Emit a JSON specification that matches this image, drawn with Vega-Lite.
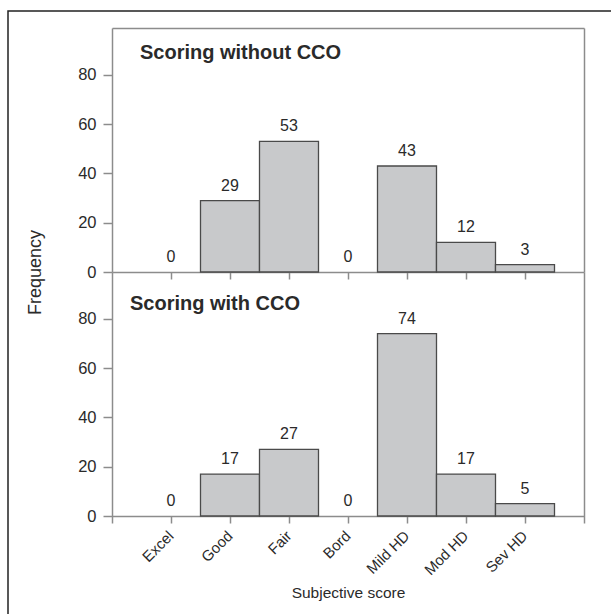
{
  "$schema": "https://vega.github.io/schema/vega-lite/v6.json",
  "width": 605,
  "height": 605,
  "autosize": {"type": "none"},
  "padding": {"left": 8, "top": 11, "right": 0, "bottom": 0},
  "background": "white",
  "data": {"values": [
    {"panel": "without", "score": "Excel", "freq": 0},
    {"panel": "without", "score": "Good", "freq": 29},
    {"panel": "without", "score": "Fair", "freq": 53},
    {"panel": "without", "score": "Bord", "freq": 0},
    {"panel": "without", "score": "Mild HD", "freq": 43},
    {"panel": "without", "score": "Mod HD", "freq": 12},
    {"panel": "without", "score": "Sev HD", "freq": 3},
    {"panel": "with", "score": "Excel", "freq": 0},
    {"panel": "with", "score": "Good", "freq": 17},
    {"panel": "with", "score": "Fair", "freq": 27},
    {"panel": "with", "score": "Bord", "freq": 0},
    {"panel": "with", "score": "Mild HD", "freq": 74},
    {"panel": "with", "score": "Mod HD", "freq": 17},
    {"panel": "with", "score": "Sev HD", "freq": 5}
  ]},
  "layer": [
    {
      "resolve": {"axis": {"x": "independent", "y": "independent"}},
      "layer": [
        {
          "transform": [{"filter": "datum.panel == 'without' && datum.freq > 0"}],
          "mark": {"type": "bar", "fill": "#c8c9cb", "stroke": "#4a4a4a", "strokeWidth": 1.3},
          "encoding": {
            "x": {"field": "score", "type": "nominal",
              "scale": {"domain": ["Excel", "Good", "Fair", "Bord", "Mild HD", "Mod HD", "Sev HD"], "range": [104, 576], "paddingInner": 0, "paddingOuter": 0.5},
              "axis": {"orient": "bottom", "offset": -344, "labels": false, "title": null, "tickSize": 7}},
            "y": {"field": "freq", "type": "quantitative",
              "scale": {"domain": [0, 99], "range": [261, 17], "nice": false, "zero": false},
              "axis": {"orient": "left", "offset": -104, "values": [0, 20, 40, 60, 80], "tickSize": 9, "labelPadding": 7,
                "title": "Frequency", "titleX": -72, "titleY": 261, "titleAngle": 270, "titleBaseline": "alphabetic", "titleAlign": "center", "titleFontSize": 18}}
          }
        },
        {
          "transform": [{"filter": "datum.panel == 'without'"}],
          "mark": {"type": "text", "baseline": "alphabetic", "dy": -10, "fontSize": 16, "color": "#2a2a2a", "font": "Liberation Sans"},
          "encoding": {
            "x": {"field": "score", "type": "nominal",
              "axis": {"orient": "top", "offset": -17, "labels": false, "ticks": false, "title": null}},
            "y": {"field": "freq", "type": "quantitative",
              "axis": {"orient": "right", "offset": -29, "labels": false, "ticks": false, "title": null}},
            "text": {"field": "freq", "type": "quantitative"}
          }
        },
        {
          "data": {"values": [{"t": "Scoring without CCO"}]},
          "mark": {"type": "text", "align": "left", "baseline": "alphabetic", "dx": -1.5, "fontSize": 20, "fontWeight": "bold", "color": "#2a2a2a", "font": "Liberation Sans"},
          "encoding": {
            "x": {"datum": "Excel", "type": "nominal", "bandPosition": 0, "axis": null},
            "y": {"datum": 86.4, "type": "quantitative", "axis": null},
            "text": {"field": "t", "type": "nominal"}
          }
        }
      ]
    },
    {
      "resolve": {"axis": {"x": "independent", "y": "independent"}},
      "layer": [
        {
          "transform": [{"filter": "datum.panel == 'with' && datum.freq > 0"}],
          "mark": {"type": "bar", "fill": "#c8c9cb", "stroke": "#4a4a4a", "strokeWidth": 1.3},
          "encoding": {
            "x": {"field": "score", "type": "nominal",
              "axis": {"orient": "bottom", "offset": -100, "labelAngle": -45, "labelAlign": "right", "labelBaseline": "middle", "labelPadding": 10, "labelFontSize": 15, "tickSize": 7,
                "title": "Subjective score", "titleY": 81, "titleBaseline": "alphabetic", "titleFontSize": 15.5}},
            "y": {"field": "freq", "type": "quantitative",
              "scale": {"domain": [-2.84, 99], "range": [512, 261], "nice": false, "zero": false},
              "axis": {"orient": "left", "offset": -104, "values": [0, 20, 40, 60, 80], "tickSize": 9, "labelPadding": 7, "title": null}}
          }
        },
        {
          "transform": [{"filter": "datum.panel == 'with'"}],
          "mark": {"type": "text", "baseline": "alphabetic", "dy": -10, "fontSize": 16, "color": "#2a2a2a", "font": "Liberation Sans"},
          "encoding": {
            "x": {"field": "score", "type": "nominal", "axis": null},
            "y": {"field": "freq", "type": "quantitative",
              "axis": {"orient": "right", "offset": -29, "labels": false, "ticks": false, "title": null}},
            "text": {"field": "freq", "type": "quantitative"}
          }
        },
        {
          "data": {"values": [{"t": "Scoring with CCO"}]},
          "mark": {"type": "text", "align": "left", "baseline": "alphabetic", "dx": -11.5, "fontSize": 20, "fontWeight": "bold", "color": "#2a2a2a", "font": "Liberation Sans"},
          "encoding": {
            "x": {"datum": "Excel", "type": "nominal", "bandPosition": 0, "axis": null},
            "y": {"datum": 83.6, "type": "quantitative", "axis": null},
            "text": {"field": "t", "type": "nominal"}
          }
        }
      ]
    }
  ],
  "resolve": {"scale": {"y": "independent"}, "axis": {"x": "independent", "y": "independent"}},
  "config": {
    "view": {"stroke": "#222", "strokeWidth": 1.5},
    "axis": {"grid": false, "domainColor": "#8c8c8c", "domainWidth": 1.5, "tickColor": "#8c8c8c", "tickWidth": 1.5,
      "labelFont": "Liberation Sans", "labelColor": "#2a2a2a", "labelFontSize": 16.5,
      "titleFont": "Liberation Sans", "titleColor": "#2a2a2a", "titleFontWeight": "normal"}
  }
}
